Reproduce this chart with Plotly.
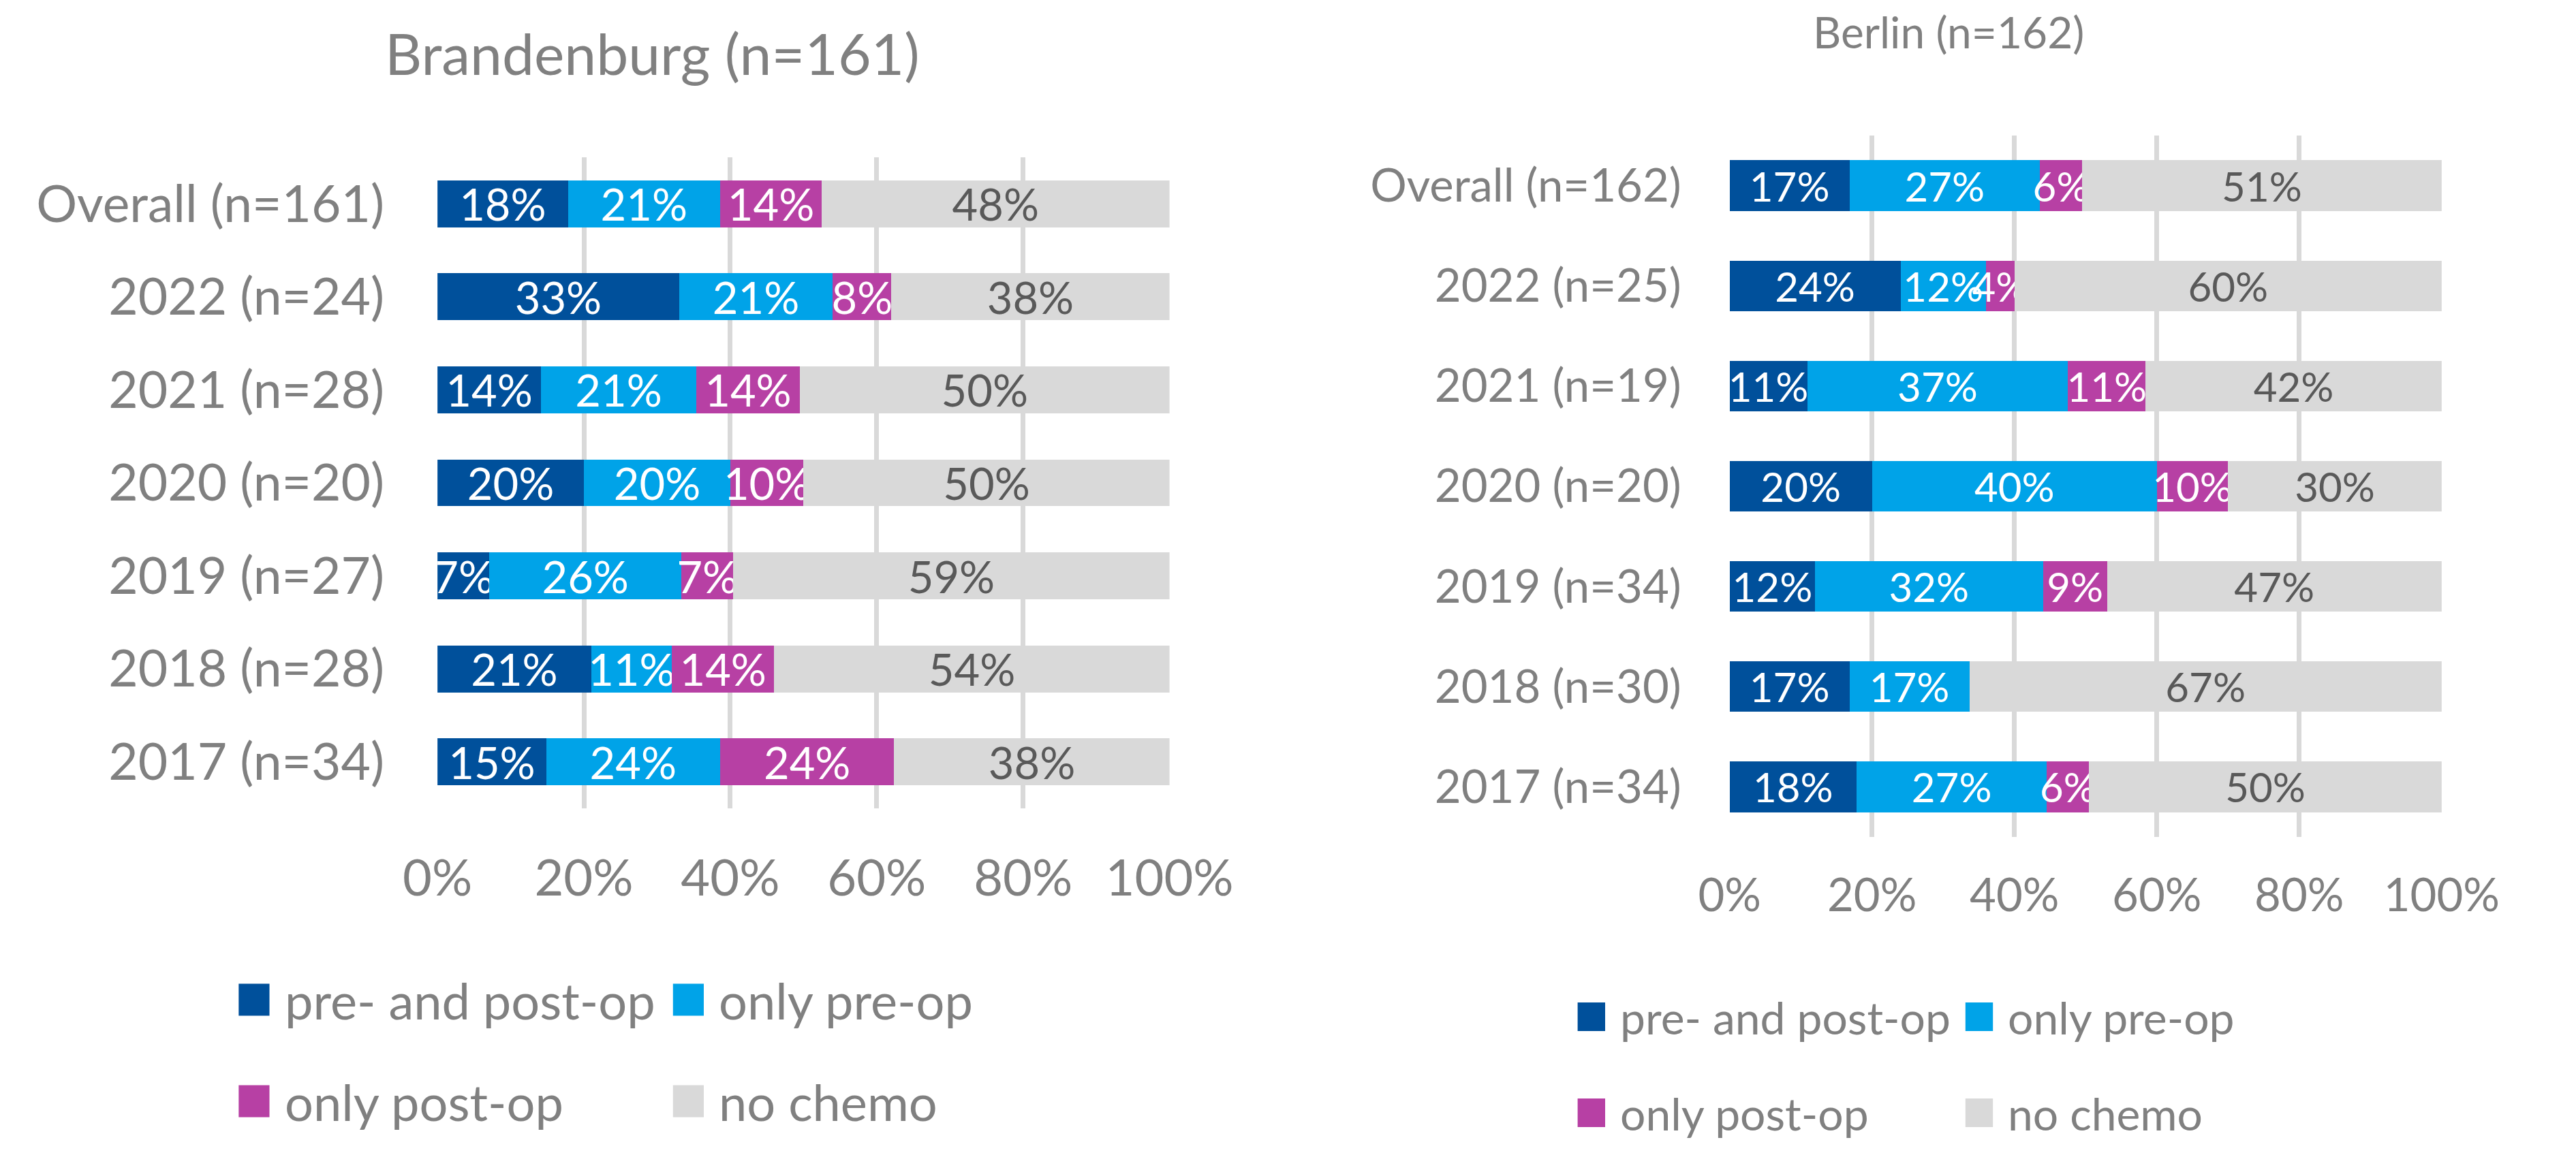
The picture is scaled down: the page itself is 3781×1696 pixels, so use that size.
import plotly.graph_objects as go

# page size; the html body adds an 8px margin round the figure
W, H = 3781, 1696
PAD = 8
FW, FH = W - 2 * PAD, H - 2 * PAD

series = ["pre- and post-op", "only pre-op", "only post-op", "no chemo"]
colors = ["#00509B", "#00A3E8", "#B740A4", "#D9D9D9"]
label_colors = ["white", "white", "white", "#595959"]

# Brandenburg, top row first
bb_rows = ["Overall (n=161)", "2022 (n=24)", "2021 (n=28)", "2020 (n=20)",
           "2019 (n=27)", "2018 (n=28)", "2017 (n=34)"]
bb_pre_post = [18, 33, 14, 20, 7, 21, 15]
bb_pre = [21, 21, 21, 20, 26, 11, 24]
bb_post = [14, 8, 14, 10, 7, 14, 24]
bb_none = [48, 38, 50, 50, 59, 54, 38]

# Berlin
be_rows = ["Overall (n=162)", "2022 (n=25)", "2021 (n=19)", "2020 (n=20)",
           "2019 (n=34)", "2018 (n=30)", "2017 (n=34)"]
be_pre_post = [17, 24, 11, 20, 12, 17, 18]
be_pre = [27, 12, 37, 40, 32, 17, 27]
be_post = [6, 4, 11, 10, 9, 0, 6]
be_none = [51, 60, 42, 30, 47, 67, 50]

x_ticks = [0, 20, 40, 60, 80, 100]
x_ticktext = ["0%", "20%", "40%", "60%", "80%", "100%"]


def px(x):
    return (x - PAD) / FW


def py(y):
    return 1 - (y - PAD) / FH


FONT = "Lato"
GREY = "#808080"

fig = go.Figure()

charts = [
    dict(rows=bb_rows, vals=[bb_pre_post, bb_pre, bb_post, bb_none], xa="x", ya="y",
         lab=65, title="Brandenburg (n=161)"),
    dict(rows=be_rows, vals=[be_pre_post, be_pre, be_post, be_none], xa="x2", ya="y2",
         lab=60, title="Berlin (n=162)"),
]

for c in charts:
    for name, vals, col, tcol in zip(series, c["vals"], colors, label_colors):
        fig.add_trace(go.Bar(
            y=c["rows"], x=vals, orientation="h", name=name,
            marker=dict(color=col, line=dict(width=0)),
            text=[f"{v}%" if v else "" for v in vals],
            textposition="inside", insidetextanchor="middle", textangle=0,
            constraintext="none",
            insidetextfont=dict(family=FONT, size=c["lab"], color=tcol),
            xaxis=c["xa"], yaxis=c["ya"], showlegend=False,
        ))

axis_common = dict(range=[0, 100], tickmode="array", tickvals=x_ticks, ticktext=x_ticktext,
                   showgrid=True, gridcolor="#D9D9D9", gridwidth=7, zeroline=False,
                   showline=False, ticks="outside", tickcolor="rgba(0,0,0,0)", fixedrange=True)

fig.update_layout(
    width=FW, height=FH, margin=dict(l=0, r=0, t=0, b=0),
    paper_bgcolor="white", plot_bgcolor="white",
    barmode="stack", barnorm="percent", bargap=0.495,
    font=dict(family=FONT, color=GREY),
    xaxis=dict(domain=[px(614.5), px(1732)], anchor="y", ticklen=38,
               tickfont=dict(size=74, color=GREY), **axis_common),
    yaxis=dict(domain=[py(1187), py(231)], anchor="x", autorange="reversed",
               categoryorder="array", categoryarray=bb_rows, showgrid=False,
               ticklabelstandoff=77, tickfont=dict(size=75, color=GREY)),
    xaxis2=dict(domain=[px(2587), px(3674)], anchor="y2", ticklen=28,
                tickfont=dict(size=67, color=GREY), **axis_common),
    yaxis2=dict(domain=[py(1229), py(199)], anchor="x2", autorange="reversed",
                categoryorder="array", categoryarray=be_rows, showgrid=False,
                ticklabelstandoff=70, tickfont=dict(size=67, color=GREY)),
)

# titles
fig.add_annotation(text=charts[0]["title"], x=px(942), y=py(78), xref="paper", yref="paper",
                   showarrow=False, xanchor="center", yanchor="middle",
                   font=dict(family=FONT, size=84, color=GREY))
fig.add_annotation(text=charts[1]["title"], x=px(2921), y=py(46), xref="paper", yref="paper",
                   showarrow=False, xanchor="center", yanchor="middle",
                   font=dict(family=FONT, size=64, color=GREY))

# legends, two items per row, drawn as swatch + label
legends = [
    dict(cols=[311, 974], rows=[1468, 1617], box=47, gap=21, size=74),
    dict(cols=[2355, 2947], rows=[1493, 1634], box=42, gap=21, size=66),
]
for lg in legends:
    for i, (name, col) in enumerate(zip(series, colors)):
        x0 = lg["cols"][i % 2]
        yc = lg["rows"][i // 2]
        b = lg["box"]
        fig.add_shape(type="rect", xref="paper", yref="paper",
                      x0=px(x0), x1=px(x0 + b), y0=py(yc + b / 2), y1=py(yc - b / 2),
                      fillcolor=col, line=dict(width=0))
        fig.add_annotation(text=name, x=px(x0 + b + lg["gap"]), y=py(yc), xref="paper",
                           yref="paper", showarrow=False, xanchor="left", yanchor="middle",
                           font=dict(family=FONT, size=lg["size"], color=GREY))

fig.write_html("out.html")
